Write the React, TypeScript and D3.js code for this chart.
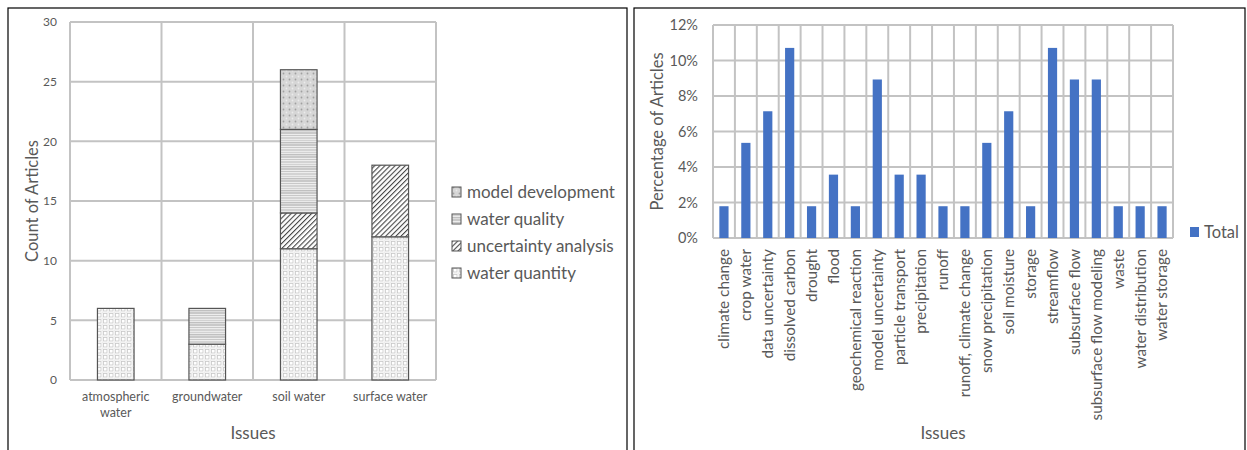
import React from "react";
import * as d3 from "d3";

// ---- Left chart data ----
const issuesLeft = ["atmospheric water", "groundwater", "soil water", "surface water"];
const leftLabelLines = [["atmospheric", "water"], ["groundwater"], ["soil water"], ["surface water"]];
const seriesKeys = ["water quantity", "uncertainty analysis", "water quality", "model development"];
const waterQuantity = [6, 3, 11, 12];
const uncertaintyAnalysis = [0, 0, 3, 6];
const waterQuality = [0, 3, 7, 0];
const modelDevelopment = [0, 0, 5, 0];
const leftTicks = [0, 5, 10, 15, 20, 25, 30];

// ---- Right chart data ----
const issuesRight = [
  "climate change", "crop water", "data uncertainty", "dissolved carbon", "drought", "flood",
  "geochemical reaction", "model uncertainty", "particle transport", "precipitation", "runoff",
  "runoff, climate change", "snow precipitation", "soil moisture", "storage", "streamflow",
  "subsurface flow", "subsurface flow modeling", "waste", "water distribution", "water storage",
];
const totalPct = [
  0.0179, 0.0536, 0.0714, 0.1071, 0.0179, 0.0357, 0.0179, 0.0893, 0.0357, 0.0357, 0.0179,
  0.0179, 0.0536, 0.0714, 0.0179, 0.1071, 0.0893, 0.0893, 0.0179, 0.0179, 0.0179,
];
const rightTicks = [0, 0.02, 0.04, 0.06, 0.08, 0.1, 0.12];

const FONT = "Lato, 'Open Sans', sans-serif";
const TXT = "#595959";
const GRID = "#c3c3c3";

const patternIds: Record<string, string> = {
  "water quantity": "pQuantity",
  "uncertainty analysis": "pUncert",
  "water quality": "pQuality",
  "model development": "pModel",
};

function LeftChart() {
  const x0 = 70, x1 = 436, yTop = 22, yBot = 380;
  const x = d3.scaleBand<string>().domain(issuesLeft).range([x0, x1]).padding(0);
  const y = d3.scaleLinear().domain([0, 30]).range([yBot, yTop]);
  const rows = issuesLeft.map((c, i) => ({
    cat: c,
    "water quantity": waterQuantity[i],
    "uncertainty analysis": uncertaintyAnalysis[i],
    "water quality": waterQuality[i],
    "model development": modelDevelopment[i],
  }));
  const stacked = d3.stack<any>().keys(seriesKeys)(rows);
  const bw = x.bandwidth() * 0.4;
  const bounds = [...issuesLeft.map((c) => x(c)!), x1];
  const legendOrder = [...seriesKeys].reverse();
  return (
    <g>
      {leftTicks.map((t) => (
        <line key={"h" + t} x1={x0} x2={x1} y1={y(t)} y2={y(t)} stroke={GRID} strokeWidth={2} />
      ))}
      {bounds.map((b, i) => (
        <line key={"v" + i} x1={b} x2={b} y1={yTop} y2={yBot} stroke={GRID} strokeWidth={2} />
      ))}
      {leftTicks.map((t) => (
        <text key={"t" + t} x={57} y={y(t)} dy="0.35em" textAnchor="end" fontSize={12} fill={TXT}>
          {t}
        </text>
      ))}
      {stacked.map((s) =>
        s.map((d, i) => {
          const h = y(d[0]) - y(d[1]);
          if (h <= 0) return null;
          const cx = x(issuesLeft[i])! + x.bandwidth() / 2;
          return (
            <rect
              key={s.key + i}
              x={cx - bw / 2}
              y={y(d[1])}
              width={bw}
              height={h}
              fill={`url(#${patternIds[s.key]})`}
              stroke="#555"
              strokeWidth={1.2}
            />
          );
        })
      )}
      {leftLabelLines.map((lines, i) => (
        <text key={"c" + i} x={x(issuesLeft[i])! + x.bandwidth() / 2} y={401} textAnchor="middle" fontSize={12.5} fill={TXT}>
          {lines.map((l, j) => (
            <tspan key={j} x={x(issuesLeft[i])! + x.bandwidth() / 2} dy={j === 0 ? 0 : 16}>
              {l}
            </tspan>
          ))}
        </text>
      ))}
      <text x={(x0 + x1) / 2} y={439} textAnchor="middle" fontSize={17} fill={TXT}>
        Issues
      </text>
      <text transform={`translate(38,${(yTop + yBot) / 2}) rotate(-90)`} textAnchor="middle" fontSize={16.5} fill={TXT}>
        Count of Articles
      </text>
      {legendOrder.map((k, i) => (
        <g key={k} transform={`translate(452,${192 + i * 27})`}>
          <rect x={0} y={-5} width={9} height={10} fill={`url(#${patternIds[k]})`} stroke="#555" strokeWidth={1} />
          <text x={15} y={0} dy="0.35em" fontSize={17} fill={TXT}>
            {k}
          </text>
        </g>
      ))}
    </g>
  );
}

function RightChart() {
  const x0 = 713, x1 = 1173, yTop = 25, yBot = 238;
  const x = d3.scaleBand<string>().domain(issuesRight).range([x0, x1]).padding(0);
  const y = d3.scaleLinear().domain([0, 0.12]).range([yBot, yTop]);
  const bw = x.bandwidth() * 0.42;
  const bounds = [...issuesRight.map((c) => x(c)!), x1];
  const fmt = d3.format(".0%");
  return (
    <g>
      {rightTicks.map((t) => (
        <line key={"h" + t} x1={x0} x2={x1} y1={y(t)} y2={y(t)} stroke={GRID} strokeWidth={2} />
      ))}
      {bounds.map((b, i) => (
        <line key={"v" + i} x1={b} x2={b} y1={yTop} y2={yBot} stroke={GRID} strokeWidth={2} />
      ))}
      {rightTicks.map((t) => (
        <text key={"t" + t} x={698} y={y(t)} dy="0.35em" textAnchor="end" fontSize={14.5} fill={TXT}>
          {fmt(t)}
        </text>
      ))}
      {totalPct.map((v, i) => {
        const cx = x(issuesRight[i])! + x.bandwidth() / 2;
        return <rect key={i} x={cx - bw / 2} y={y(v)} width={bw} height={y(0) - y(v)} fill="#4472C4" />;
      })}
      {issuesRight.map((c) => {
        const cx = x(c)! + x.bandwidth() / 2;
        return (
          <text key={c} transform={`translate(${cx},249) rotate(-90)`} textAnchor="end" dy="0.35em" fontSize={15.3} fill={TXT}>
            {c}
          </text>
        );
      })}
      <text x={(x0 + x1) / 2} y={439} textAnchor="middle" fontSize={17} fill={TXT}>
        Issues
      </text>
      <text transform={`translate(663,${(yTop + yBot) / 2}) rotate(-90)`} textAnchor="middle" fontSize={16.5} fill={TXT}>
        Percentage of Articles
      </text>
      <rect x={1190} y={227} width={9} height={10} fill="#4472C4" />
      <text x={1204} y={232} dy="0.35em" fontSize={16.5} fill={TXT}>
        Total
      </text>
    </g>
  );
}

export default function App() {
  return (
    <svg
      width={1247}
      height={450}
      style={{ position: "absolute", left: 0, top: 0, fontFamily: FONT }}
    >
      <defs>
        <pattern id="pQuantity" width={6} height={6} patternUnits="userSpaceOnUse">
          <rect width={6} height={6} fill="#fff" />
          <rect x={1.5} y={1.5} width={3.5} height={3.5} fill="none" stroke="#c8c8c8" strokeWidth={0.8} />
          <line x1={0} x2={6} y1={0.3} y2={0.3} stroke="#e6e6e6" strokeWidth={0.6} />
          <line x1={0.3} x2={0.3} y1={0} y2={6} stroke="#e6e6e6" strokeWidth={0.6} />
        </pattern>
        <pattern id="pUncert" width={3.6} height={3.6} patternUnits="userSpaceOnUse" patternTransform="rotate(45)">
          <rect width={3.6} height={3.6} fill="#fff" />
          <line x1={0} x2={0} y1={0} y2={3.6} stroke="#444" strokeWidth={2.2} />
        </pattern>
        <pattern id="pQuality" width={8} height={12} patternUnits="userSpaceOnUse">
          <rect width={8} height={12} fill="#f2f2f2" />
          <line x1={0} x2={8} y1={1} y2={1} stroke="#a0a0a0" strokeWidth={1} />
          <line x1={0} x2={8} y1={3.5} y2={3.5} stroke="#c8c8c8" strokeWidth={1.2} />
          <line x1={0} x2={8} y1={6} y2={6} stroke="#adadad" strokeWidth={0.9} />
          <line x1={0} x2={8} y1={8.5} y2={8.5} stroke="#d2d2d2" strokeWidth={1.5} />
          <line x1={0} x2={8} y1={10.8} y2={10.8} stroke="#989898" strokeWidth={0.8} />
        </pattern>
        <pattern id="pModel" width={6} height={6} patternUnits="userSpaceOnUse">
          <rect width={6} height={6} fill="#d6d6d6" />
          <circle cx={1.5} cy={1.5} r={0.9} fill="#a0a0a0" />
          <circle cx={4.5} cy={4.5} r={0.9} fill="#ebebeb" />
        </pattern>
      </defs>
      <rect width={1247} height={450} fill="#fff" />
      <rect x={8} y={8} width={619} height={450} fill="none" stroke="#000" strokeWidth={1.2} />
      <rect x={634} y={8} width={611} height={450} fill="none" stroke="#000" strokeWidth={1.2} />
      <LeftChart />
      <RightChart />
    </svg>
  );
}
